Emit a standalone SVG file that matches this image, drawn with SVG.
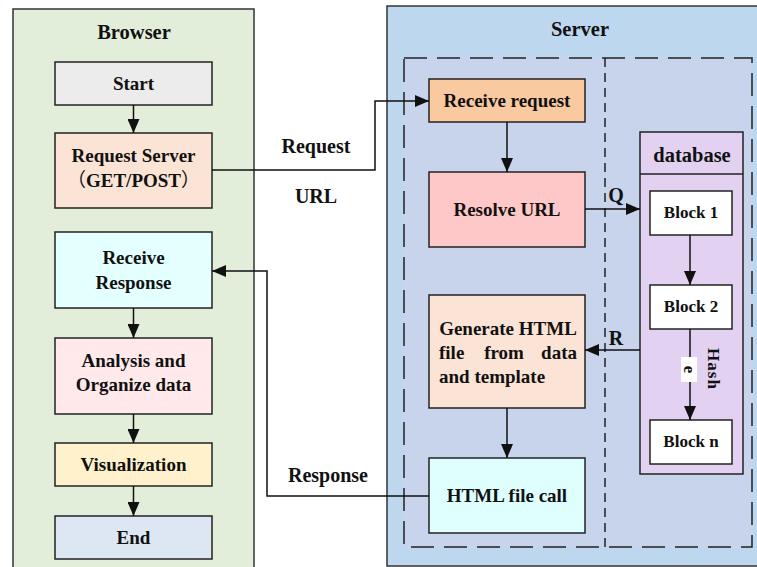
<svg xmlns="http://www.w3.org/2000/svg" width="757" height="567" viewBox="0 0 757 567">
<defs>
<marker id="ah" markerUnits="userSpaceOnUse" markerWidth="14" markerHeight="12" viewBox="0 0 14 12" refX="14" refY="6" orient="auto">
<path d="M0,0 L14,6 L0,12 Z" fill="#111"/>
</marker>
<style>
.box{stroke:#222;stroke-width:1.5}
.t{font-family:"Liberation Serif","Times New Roman",serif;font-weight:bold;font-size:19px;fill:#111;text-anchor:middle}
.l{text-anchor:start}
.r{text-anchor:end}
.ttl{font-size:20.5px}
.lb{font-size:20px}
.sm{font-size:17px}
.c{fill:none;stroke:#111;stroke-width:1.5}
.ca{fill:none;stroke:#111;stroke-width:1.5;marker-end:url(#ah)}
</style>
</defs>
<rect width="757" height="567" fill="#fff"/>

<g id="browser-panel">
<rect x="13" y="9" width="241" height="570" fill="#e2eed9" stroke="#333" stroke-width="1.5"/>
<text class="t ttl" x="134" y="39">Browser</text>
</g>
<g id="server-panel">
<rect x="387" y="6" width="390" height="560" fill="#bdd7ee" stroke="#333" stroke-width="1.5"/>
<text class="t ttl" x="580" y="36">Server</text>
<rect x="404" y="58" width="348" height="489" fill="#c8d4ec" stroke="#222" stroke-width="1.5" stroke-dasharray="23 10"/>
<line x1="605" y1="58" x2="605" y2="547" stroke="#222" stroke-width="1.5" stroke-dasharray="9 6"/>
</g>

<g id="start"><rect class="box" x="55" y="62" width="157" height="43" fill="#ececec"/><text class="t" x="133.5" y="90">Start</text></g>
<g id="request-server"><rect class="box" x="55" y="133" width="157" height="75" fill="#fbe4d5"/><text class="t" x="133.5" y="162">Request Server</text><text class="t" x="133.5" y="187"><tspan font-family="'Noto Sans CJK SC',sans-serif" font-weight="normal">（</tspan>GET/POST<tspan font-family="'Noto Sans CJK SC',sans-serif" font-weight="normal">）</tspan></text></g>
<g id="receive-response"><rect class="box" x="55" y="232" width="157" height="76" fill="#e4ffff"/><text class="t" x="133.5" y="264">Receive</text><text class="t" x="133.5" y="289">Response</text></g>
<g id="analysis"><rect class="box" x="55" y="338" width="157" height="76" fill="#ffe9ea"/><text class="t" x="133.5" y="367">Analysis and</text><text class="t" x="133.5" y="391">Organize data</text></g>
<g id="visualization"><rect class="box" x="55" y="443" width="157" height="43" fill="#fff1cc"/><text class="t" x="133.5" y="471">Visualization</text></g>
<g id="end"><rect class="box" x="55" y="516" width="157" height="43" fill="#dde7f4"/><text class="t" x="133.5" y="544">End</text></g>

<g id="receive-request"><rect class="box" x="429" y="79" width="156" height="43" fill="#f9c9a0"/><text class="t" x="507" y="107">Receive request</text></g>
<g id="resolve-url"><rect class="box" x="429" y="172" width="156" height="75" fill="#ffc8c8"/><text class="t" x="507" y="216">Resolve URL</text></g>
<g id="generate-html"><rect class="box" x="429" y="295" width="156" height="113" fill="#fbe4d5"/>
<text class="t" x="508" y="335">Generate HTML</text>
<text class="t l" x="439" y="359">file</text><text class="t" x="504" y="359">from</text><text class="t r" x="577" y="359">data</text>
<text class="t l" x="439" y="383">and template</text></g>
<g id="html-file-call"><rect class="box" x="429" y="458" width="156" height="75" fill="#dfffff"/><text class="t" x="507" y="502">HTML file call</text></g>

<g id="database"><rect class="box" x="640" y="132" width="103" height="342" fill="#e2d1f1"/><line x1="640" y1="174" x2="743" y2="174" stroke="#222" stroke-width="1.5"/><text class="t ttl" x="692" y="162">database</text></g>
<g id="block1"><rect class="box" x="650" y="191" width="82" height="44" fill="#fff"/><text class="t sm" x="691" y="218">Block 1</text></g>
<g id="block2"><rect class="box" x="650" y="285" width="82" height="44" fill="#fff"/><text class="t sm" x="691" y="312">Block 2</text></g>
<g id="blockn"><rect class="box" x="650" y="420" width="82" height="44" fill="#fff"/><text class="t sm" x="691" y="447">Block n</text></g>

<g id="connectors">
<line class="ca" x1="133.5" y1="105" x2="133.5" y2="133"/>
<line class="ca" x1="133.5" y1="308" x2="133.5" y2="338"/>
<line class="ca" x1="133.5" y1="414" x2="133.5" y2="443"/>
<line class="ca" x1="133.5" y1="486" x2="133.5" y2="516"/>
<polyline class="ca" points="212,170 375,170 375,101 429,101"/>
<polyline class="ca" points="429,496 267,496 267,271 212,271"/>
<line class="ca" x1="507" y1="122" x2="507" y2="172"/>
<line class="ca" x1="507" y1="408" x2="507" y2="458"/>
<line class="ca" x1="585" y1="209" x2="640" y2="209"/>
<line class="ca" x1="640" y1="350" x2="585" y2="350"/>
<line class="ca" x1="690" y1="235" x2="690" y2="285"/>
<line class="ca" x1="690" y1="329" x2="690" y2="420"/>
<rect x="681" y="357" width="16" height="25" fill="#fff"/>
<text class="t sm" transform="translate(689,369.5) rotate(90)" y="5">e</text>
<text class="t sm" transform="translate(713,369) rotate(90)" y="5" letter-spacing="1">Hash</text>
<text class="t lb" x="316" y="153">Request</text>
<text class="t lb" x="316" y="203">URL</text>
<text class="t lb" x="328" y="482">Response</text>
<text class="t lb" x="616" y="202">Q</text>
<text class="t lb" x="616" y="345">R</text>
</g>
</svg>
